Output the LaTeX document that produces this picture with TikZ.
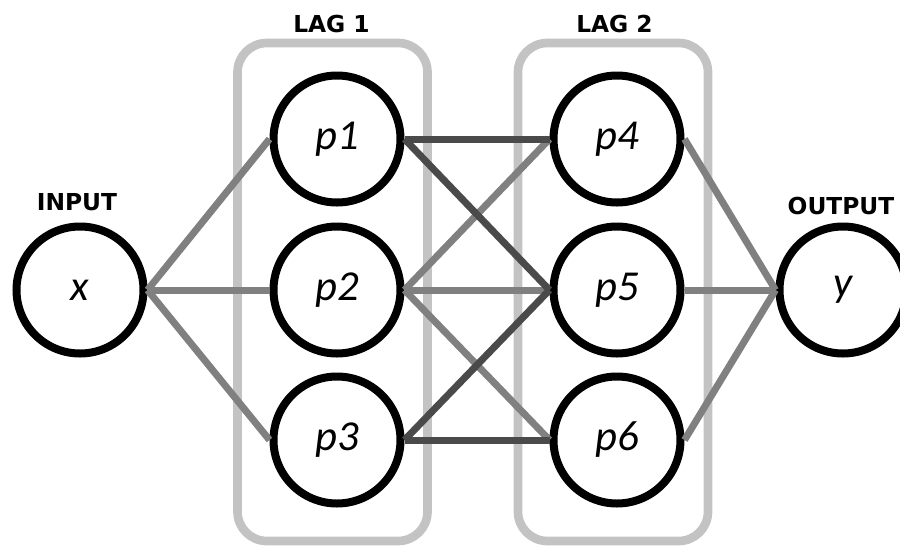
\documentclass[tikz,border=0pt]{standalone}
\usepackage{fontspec}
\setmainfont{Carlito}
\newfontfamily\headfont{DejaVu Sans}

\tikzset{
  neuron/.style={circle, draw=black, line width=6pt, fill=white, minimum size=95.25pt, inner sep=0pt, font=\fontsize{32}{36}\selectfont\itshape},
  laglabel/.style={inner sep=0pt, font=\headfont\bfseries\fontsize{17.5}{20}\selectfont},
  lagbox/.style={draw={rgb, 255:red, 195; green, 195; blue, 195}, line width=6.5pt, rounded corners=22pt, minimum width=142.5pt, minimum height=373.5pt, inner sep=0pt},
  darkedge/.style={draw={rgb, 255:red, 74; green, 74; blue, 74}, line width=5.25pt},
  grayedge/.style={draw={rgb, 255:red, 128; green, 128; blue, 128}, line width=5.25pt}
}

\begin{document}
\begin{tikzpicture}[x=0.75pt,y=0.75pt,yscale=-1,xscale=1]
\useasboundingbox (0,0) rectangle (900,547);

% Boxes
\node[lagbox] (lag1) at (332.5,292) {};
\node[lagbox] (lag2) at (613,292) {};

% Text Node
\node[laglabel] (lag1label) at (331.5,24) {LAG 1};
\node[laglabel] (lag2label) at (614.5,24) {LAG 2};
\node[laglabel] (inlabel) at (77,202) {INPUT};
\node[laglabel] (outlabel) at (841,206) {OUTPUT};

% Neurons
\node[neuron] (x) at (80,290) {$\mathit{x}$};
\node[neuron] (p1) at (337,139) {p1};
\node[neuron] (p2) at (337,290) {p2};
\node[neuron] (p3) at (337,440) {p3};
\node[neuron] (p4) at (617,139) {p4};
\node[neuron] (p5) at (617,290) {p5};
\node[neuron] (p6) at (617,440) {p6};
\node[neuron] (y) at (843,290) {y};

% Input to first layer
\draw[grayedge] (x.east) -- (p1.west);
\draw[grayedge] (x.east) -- (p2.west);
\draw[grayedge] (x.east) -- (p3.west);

% First layer to second layer
\draw[grayedge] (p2.east) -- (p4.west);
\draw[grayedge] (p2.east) -- (p5.west);
\draw[grayedge] (p2.east) -- (p6.west);
\draw[darkedge] (p1.east) -- (p4.west);
\draw[darkedge] (p1.east) -- (p5.west);
\draw[darkedge] (p3.east) -- (p5.west);
\draw[darkedge] (p3.east) -- (p6.west);

% Second layer to output
\draw[grayedge] (p4.east) -- (y.west);
\draw[grayedge] (p5.east) -- (y.west);
\draw[grayedge] (p6.east) -- (y.west);

\end{tikzpicture}
\end{document}
